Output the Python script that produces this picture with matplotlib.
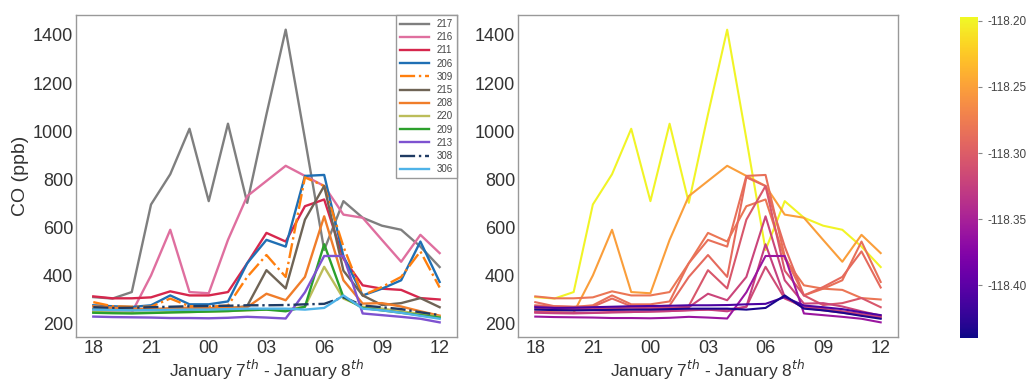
"""CO at each site over the night of January 7th - 8th, by legend and by longitude."""

import numpy as np
import matplotlib.pyplot as plt
import matplotlib as mpl

plt.rcParams['font.family'] = ['Liberation Sans', 'DejaVu Sans']

# hours since midnight of January 7th (18 = 18:00, 36 = 12:00 next day)
hours = [18, 19, 20, 21, 22, 23, 24, 25, 26, 27, 28, 29, 30, 31, 32, 33, 34, 35, 36]
tick_hours = [18, 21, 24, 27, 30, 33, 36]
tick_labels = ['18', '21', '00', '03', '06', '09', '12']

sites = ['217', '216', '211', '206', '309', '215', '208', '220', '209', '213', '308', '306']

co_217 = [310, 304, 331, 695, 821, 1010, 709, 1031, 702, 1070, 1422, 968, 506, 709, 640, 607, 590, 520, 435]
co_216 = [250, 247, 245, 400, 590, 331, 326, 548, 730, 793, 856, 814, 772, 653, 640, 548, 457, 569, 493]
co_211 = [313, 305, 305, 309, 334, 317, 317, 331, 451, 577, 541, 688, 716, 470, 359, 345, 340, 306, 300]
co_206 = [276, 272, 269, 276, 317, 280, 280, 292, 451, 548, 520, 814, 818, 480, 317, 345, 380, 541, 373]
co_309 = [289, 272, 270, 270, 304, 272, 270, 275, 394, 485, 394, 808, 772, 520, 317, 352, 394, 500, 350]
co_215 = [262, 258, 256, 256, 258, 258, 260, 262, 273, 422, 346, 632, 772, 420, 317, 277, 285, 306, 268]
co_208 = [272, 266, 262, 260, 264, 266, 264, 266, 268, 324, 297, 394, 646, 380, 283, 285, 271, 251, 233]
co_220 = [248, 246, 245, 245, 248, 248, 250, 252, 255, 258, 258, 270, 436, 304, 270, 262, 251, 240, 228]
co_209 = [245, 243, 242, 244, 246, 248, 250, 252, 256, 258, 251, 270, 530, 310, 265, 255, 245, 235, 225]
co_213 = [229, 227, 226, 225, 223, 223, 222, 224, 228, 225, 221, 330, 481, 481, 242, 235, 228, 220, 205]
co_308 = [268, 265, 266, 268, 270, 272, 273, 274, 276, 276, 277, 280, 282, 310, 275, 268, 260, 247, 235]
co_306 = [258, 256, 255, 256, 257, 258, 258, 260, 262, 262, 262, 258, 265, 317, 262, 255, 245, 232, 220]

# longitude of each site (deg), used to colour the right panel
longitudes = [-118.20, -118.252, -118.28, -118.285, -118.29, -118.305,
              -118.32, -118.315, -118.325, -118.36, -118.41, -118.435]

site_colors = ['#7f7f7f', '#df6f9f', '#d6274d', '#1f6fb4', '#ff7f0e', '#6f6456',
               '#f07d2a', '#bcbd5a', '#2ca02c', '#7e52d0', '#1f3b63', '#4fb3e8']
site_styles = ['-', '-', '-', '-', '-.', '-', '-', '-', '-', '-', '-.', '-']

series = [co_217, co_216, co_211, co_206, co_309, co_215,
          co_208, co_220, co_209, co_213, co_308, co_306]

lon_min, lon_max = -118.44, -118.197

fig = plt.figure(figsize=(10.28, 3.81), dpi=100)
ax1 = fig.add_axes([0.0739, 0.1155, 0.3706, 0.845])
ax2 = fig.add_axes([0.5039, 0.1155, 0.3696, 0.845])
cax = fig.add_axes([0.934, 0.113, 0.0175, 0.8425])

cmap = plt.cm.plasma
norm = mpl.colors.Normalize(vmin=lon_min, vmax=lon_max)

for name, vals, col, ls in zip(sites, series, site_colors, site_styles):
    ax1.plot(hours, vals, color=col, linestyle=ls, lw=1.7, label=name)

for vals, lon in zip(series, longitudes):
    ax2.plot(hours, vals, color=cmap(norm(lon)), lw=1.5)

for ax in (ax1, ax2):
    ax.set_xticks(tick_hours)
    ax.set_xticklabels(tick_labels)
    ax.set_yticks([200, 400, 600, 800, 1000, 1200, 1400])
    ax.tick_params(length=0, labelsize=13, labelcolor='#333333', pad=2)
    for sp in ax.spines.values():
        sp.set_color('#999999')
        sp.set_linewidth(1.0)
    ax.set_xlabel('January 7$^{th}$ - January 8$^{th}$', fontsize=12.5,
                  color='#333333', labelpad=0.5)

ax1.set_ylabel('CO (ppb)', fontsize=14, color='#333333', labelpad=3)

leg = ax1.legend(loc='upper right', fontsize=7, handlelength=3.0,
                 labelspacing=0.33, borderpad=0.4, borderaxespad=0.0,
                 fancybox=False, framealpha=1.0)
leg.get_frame().set_edgecolor('#999999')
for t in leg.get_texts():
    t.set_color('#444444')

sm = mpl.cm.ScalarMappable(norm=norm, cmap=cmap)
cb = fig.colorbar(sm, cax=cax)
cb.set_ticks([-118.40, -118.35, -118.30, -118.25, -118.20])
cb.set_ticklabels(['-118.40', '-118.35', '-118.30', '-118.25', '-118.20'])
cb.ax.tick_params(labelsize=8.5, labelcolor='#444444', length=3, color='#888888')
cb.outline.set_visible(False)

fig.savefig('out.png', dpi=100)
